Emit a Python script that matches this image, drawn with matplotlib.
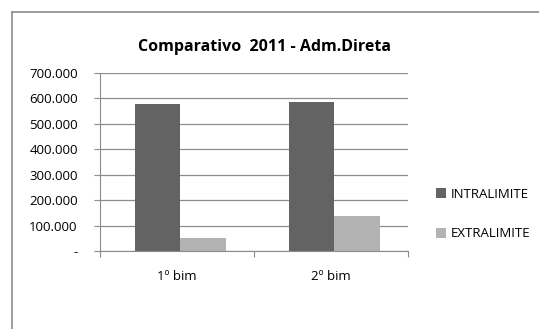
import numpy as np
import matplotlib.pyplot as plt
from matplotlib.lines import Line2D

categories = ["1º bim", "2º bim"]
intralimite = [578000, 584000]
extralimite = [52000, 138000]
series_names = ["INTRALIMITE", "EXTRALIMITE"]
y_ticks = [0, 100000, 200000, 300000, 400000, 500000, 600000, 700000]

plt.rcParams["font.family"] = ["Open Sans", "DejaVu Sans"]

fig = plt.figure(figsize=(5.39, 3.29), dpi=100)
# outer chart border: only left and top edges are visible in the crop
bx, by = 11.5 / 539, 1 - 12 / 329
fig.lines.append(Line2D([bx, bx], [0, by], transform=fig.transFigure, color="#8c8c8c", lw=1.2))
fig.lines.append(Line2D([bx, 1], [by, by], transform=fig.transFigure, color="#8c8c8c", lw=1.2))

ax = fig.add_axes([100 / 539, 1 - 251 / 329, 308 / 539, 178 / 329])
x = np.arange(len(categories)) + 0.5
w = 0.295
ax.bar(x - w / 2 + 0.02, intralimite, w, color="#636363", label=series_names[0])
ax.bar(x + w / 2 + 0.02, extralimite, w, color="#b3b3b3", label=series_names[1])

ax.set_xlim(0, 2)
ax.set_ylim(0, 700000)
ax.set_yticks(y_ticks)
ax.set_yticklabels(["-"] + [f"{v:,}".replace(",", ".") for v in y_ticks[1:]], fontsize=9.5)
ax.yaxis.grid(True, color="#8c8c8c", linewidth=0.9)
ax.set_axisbelow(True)

ax.set_xticks([0, 1, 2])
ax.set_xticklabels([])
ax.set_xticks(x, minor=True)
ax.set_xticklabels(categories, minor=True, fontsize=9.5)
ax.tick_params(axis="x", which="minor", length=0, pad=14)
ax.tick_params(axis="x", which="major", length=4, color="#8c8c8c")
ax.tick_params(axis="y", length=4, color="#8c8c8c", pad=12)

for s in ["top", "right"]:
    ax.spines[s].set_visible(False)
for s in ["left", "bottom"]:
    ax.spines[s].set_color("#8c8c8c")

fig.text(265 / 539, 1 - 47 / 329, "Comparativo  2011 - Adm.Direta", fontsize=11.5,
         fontweight="bold", ha="center", va="center")

fig.legend(loc="center left", bbox_to_anchor=(424 / 539, 1 - 214 / 329), frameon=False,
           fontsize=9.5, handlelength=0.8, handleheight=0.8, labelspacing=2.0, handletextpad=0.3)

fig.savefig("out.png", dpi=100)
